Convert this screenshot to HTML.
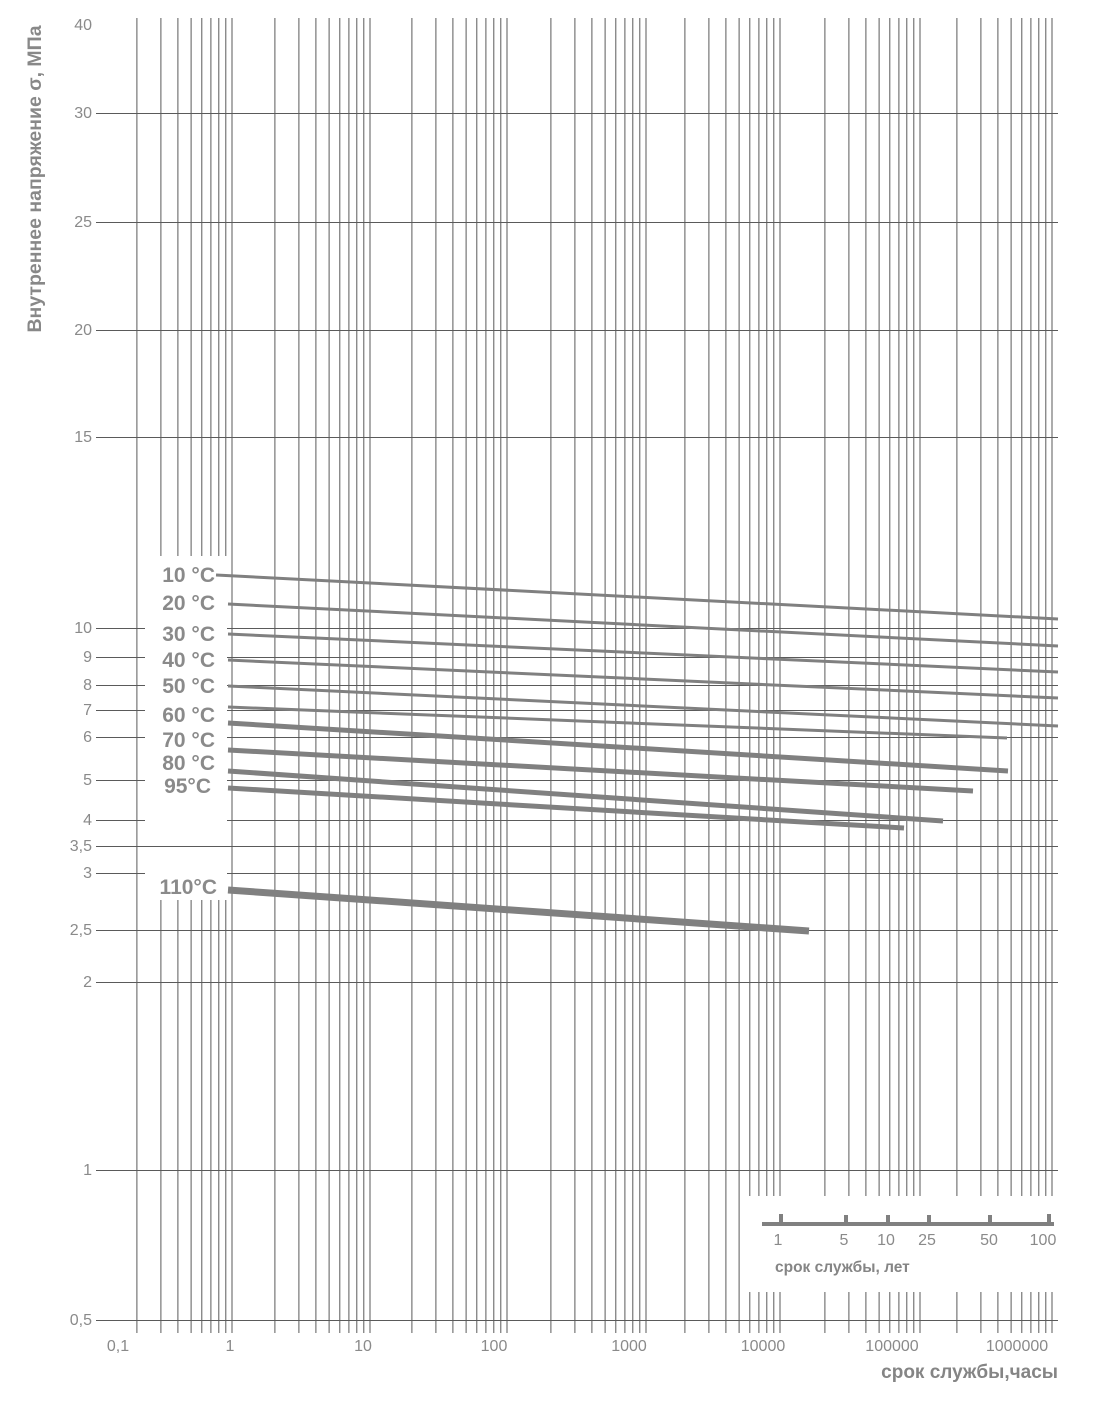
<!DOCTYPE html>
<html><head><meta charset="utf-8"><style>
html,body{margin:0;padding:0;background:#fff}
svg{display:block}
text{font-family:"Liberation Sans",sans-serif;fill:#8a8a8a}
</style></head><body>
<svg width="1098" height="1405" viewBox="0 0 1098 1405" xmlns="http://www.w3.org/2000/svg">
<defs>
<clipPath id="c1"><path d="M0 0H1098V1405H0Z M150 556V900H227V556Z M748 1196V1292H1060V1196Z" clip-rule="evenodd"/></clipPath>
</defs>
<g id="v" stroke="#5a5a5a" stroke-width="1" clip-path="url(#c1)"></g>
<g id="h" stroke="#5a5a5a" stroke-width="1"></g>
<g id="lbl" font-size="16" text-anchor="end"></g>
<g stroke="#808080" stroke-linecap="butt">
<line x1="216" y1="575" x2="1058" y2="619" stroke-width="3"/>
<line x1="228" y1="604" x2="1058" y2="646" stroke-width="3"/>
<line x1="228" y1="634" x2="1058" y2="672" stroke-width="3"/>
<line x1="228" y1="660" x2="1058" y2="698" stroke-width="3"/>
<line x1="228" y1="686" x2="1058" y2="726" stroke-width="3"/>
<line x1="228" y1="707" x2="1007" y2="738" stroke-width="3"/>
<line x1="228" y1="723" x2="1008" y2="771" stroke-width="5"/>
<line x1="228" y1="750" x2="973" y2="791" stroke-width="5"/>
<line x1="228" y1="771" x2="943" y2="821" stroke-width="5"/>
<line x1="228" y1="788" x2="904" y2="828" stroke-width="5"/>
<line x1="228" y1="890" x2="809" y2="931" stroke-width="7"/>
</g>
<g font-size="21" font-weight="bold" text-anchor="end" style="fill:#858585">
<text x="215" y="582">10 °C</text>
<text x="215" y="610">20 °C</text>
<text x="215" y="641">30 °C</text>
<text x="215" y="667">40 °C</text>
<text x="215" y="693">50 °C</text>
<text x="215" y="722">60 °C</text>
<text x="215" y="747">70 °C</text>
<text x="215" y="770">80 °C</text>
<text x="211" y="793">95°C</text>
<text x="217" y="894">110°C</text>
</g>
<text transform="translate(41,179) rotate(-90)" text-anchor="middle" font-size="19.5" font-weight="bold" style="fill:#888">Внутреннее напряжение σ, МПа</text>
<g font-size="16" text-anchor="middle">
<text x="118" y="1351">0,1</text>
<text x="230" y="1351">1</text>
<text x="363" y="1351">10</text>
<text x="494" y="1351">100</text>
<text x="629" y="1351">1000</text>
<text x="763" y="1351">10000</text>
<text x="892" y="1351">100000</text>
<text x="1017" y="1351">1000000</text>
</g>
<text x="1058" y="1378" text-anchor="end" font-size="19" font-weight="bold" style="fill:#858585">срок службы,часы</text>
<g stroke="#808080" stroke-width="4">
<line x1="762" y1="1224" x2="1054" y2="1224"/>
<line x1="781" y1="1214" x2="781" y2="1224"/>
<line x1="846" y1="1215" x2="846" y2="1224"/>
<line x1="888" y1="1215" x2="888" y2="1224"/>
<line x1="929" y1="1215" x2="929" y2="1224"/>
<line x1="990" y1="1215" x2="990" y2="1224"/>
<line x1="1049" y1="1214" x2="1049" y2="1224"/>
</g>
<g font-size="16" text-anchor="middle">
<text x="778" y="1245">1</text>
<text x="844" y="1245">5</text>
<text x="886" y="1245">10</text>
<text x="927" y="1245">25</text>
<text x="989" y="1245">50</text>
<text x="1043" y="1245">100</text>
</g>
<text x="775" y="1272" font-size="15.5" font-weight="bold" style="fill:#858585">срок службы, лет</text>
<script>
var ns="http://www.w3.org/2000/svg";
var v=document.getElementById("v"),h=document.getElementById("h"),lb=document.getElementById("lbl");
var ends=[232,370,507,646,780,920,1052];
ends.forEach(function(e){for(var k=2;k<=10;k++){var x=e-(1-Math.log10(k))*136;var l=document.createElementNS(ns,"line");l.setAttribute("x1",x.toFixed(1));l.setAttribute("x2",x.toFixed(1));l.setAttribute("y1",18);l.setAttribute("y2",1333);v.appendChild(l);}});
var ys=[["40",25,0],["30",113,1],["25",222,1],["20",330,1],["15",437,1],["10",628,2],["9",657,2],["8",685,2],["7",710,2],["6",737,2],["5",780,2],["4",820,2],["3,5",846,1],["3",873,2],["2,5",930,1],["2",982,1],["1",1170,1],["0,5",1320,1]];
ys.forEach(function(a){if(a[2]){var g=a[2]==2?[[96,145],[227,1058]]:[[96,1058]];g.forEach(function(s){var l=document.createElementNS(ns,"line");l.setAttribute("x1",s[0]);l.setAttribute("x2",s[1]);l.setAttribute("y1",a[1]+0.5);l.setAttribute("y2",a[1]+0.5);h.appendChild(l);});}
var t=document.createElementNS(ns,"text");t.setAttribute("x",92);t.setAttribute("y",a[1]+5);t.textContent=a[0];lb.appendChild(t);});
</script>
</svg>
</body></html>
